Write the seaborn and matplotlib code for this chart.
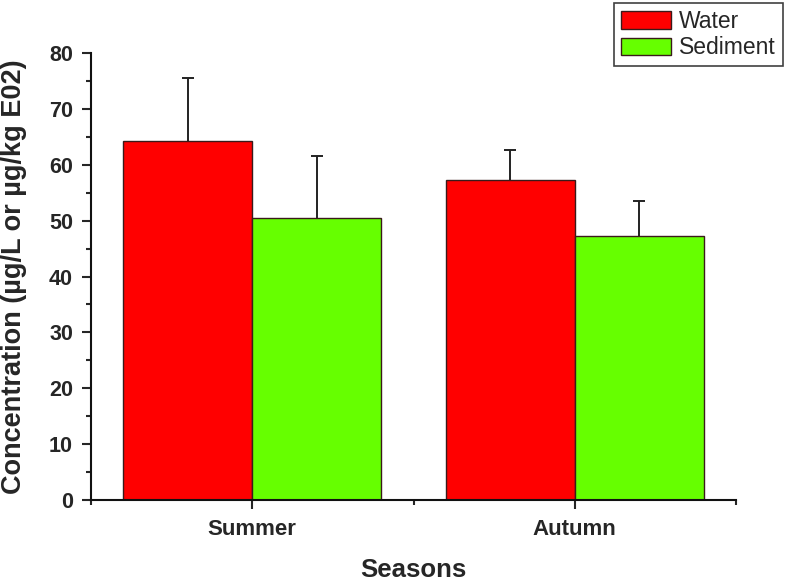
import pandas as pd
import numpy as np
import matplotlib
matplotlib.use("Agg")
import matplotlib.pyplot as plt
import seaborn as sns
from matplotlib.ticker import MultipleLocator, FixedLocator
from matplotlib.patches import Patch

# Donnees
saisons = ["Summer", "Autumn"]
milieux = ["Water", "Sediment"]
water_moy = [64.2, 57.3]
sediment_moy = [50.5, 47.2]
water_err = [11.3, 5.3]
sediment_err = [11.0, 6.4]
couleurs = ["#ff0000", "#66ff00"]

df = pd.DataFrame({
    "Saison": saisons * 2,
    "Milieu": [milieux[0]] * 2 + [milieux[1]] * 2,
    "Valeur": water_moy + sediment_moy,
    "Erreur": water_err + sediment_err,
})

sns.set_style("ticks")
plt.rcParams["font.family"] = ["Liberation Sans", "DejaVu Sans"]

fig = plt.figure(figsize=(7.86, 5.84), dpi=100)
ax = fig.add_axes([0.1158, 0.1438, 0.8206, 0.7654])

sns.barplot(data=df, x="Saison", y="Valeur", hue="Milieu", order=saisons,
            hue_order=milieux, palette=couleurs, saturation=1, width=0.8,
            errorbar=None, edgecolor="#3a1a1a", linewidth=1.0, ax=ax, legend=False)

# Barres d'erreur unilaterales (vers le haut) au centre de chaque barre
for patch, (_, row) in zip(ax.patches, df.iterrows()):
    xc = patch.get_x() + patch.get_width() / 2
    cont = ax.errorbar(xc, row["Valeur"], yerr=[[0], [row["Erreur"]]], fmt="none",
                       ecolor="#222222", elinewidth=1.4, capsize=4, capthick=1.4)
    # on cache le cap du bas (pose sur le haut de la barre)
    for cap in cont[1]:
        if np.isclose(cap.get_ydata()[0], row["Valeur"]):
            cap.set_visible(False)

ax.set_xlim(-0.5, 1.5)
ax.set_ylim(0, 80)
ax.yaxis.set_major_locator(MultipleLocator(10))
ax.yaxis.set_minor_locator(MultipleLocator(5))
ax.xaxis.set_minor_locator(FixedLocator([-0.5, 0.5, 1.5]))
ax.tick_params(axis="both", which="major", length=6.5, width=1.5, direction="out")
ax.tick_params(axis="both", which="minor", length=3.6, width=1.5, direction="out")
ax.tick_params(axis="y", which="major", labelsize=15.5, pad=6.5)
ax.tick_params(axis="x", which="major", labelsize=16, pad=7)
for lab in ax.get_xticklabels() + ax.get_yticklabels():
    lab.set_fontweight("bold")

sns.despine(ax=ax)
for s in ["left", "bottom"]:
    ax.spines[s].set_linewidth(1.5)
    ax.spines[s].set_color("#111111")

ax.set_xlabel("Seasons", fontsize=18.5, fontweight="bold", labelpad=13)
ax.set_ylabel("Concentration (µg/L or µg/kg E02)", fontsize=19.5, fontweight="bold")
ax.yaxis.set_label_coords(-0.099, 0.5)

# Legende en haut a droite
handles = [Patch(facecolor=c, edgecolor="#3a1a1a", linewidth=1.0) for c in couleurs]
leg = fig.legend(handles, milieux, loc="upper right", bbox_to_anchor=(0.996, 0.995),
                 fontsize=16.5, frameon=True, fancybox=False, handlelength=2.2,
                 handleheight=0.8, handletextpad=0.35, borderpad=0.3, labelspacing=0.15,
                 borderaxespad=0.0)
leg.get_frame().set_edgecolor("#111111")
leg.get_frame().set_linewidth(1.2)

fig.savefig("out.png", dpi=100)
